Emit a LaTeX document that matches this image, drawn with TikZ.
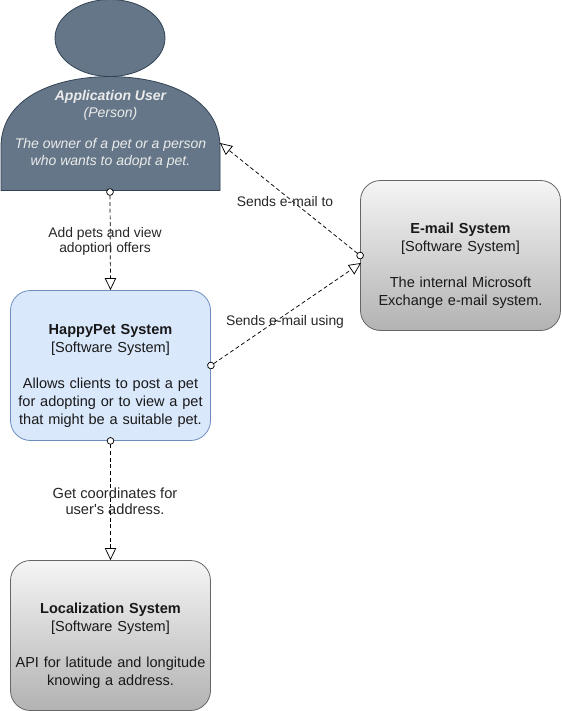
\documentclass[tikz,border=0pt]{standalone}
\usepackage{fontspec}
\setmainfont{Liberation Sans}
\usetikzlibrary{arrows.meta}

\definecolor{userfill}{HTML}{647687}
\definecolor{userline}{HTML}{314354}
\definecolor{bluefill}{HTML}{DAE8FC}
\definecolor{blueline}{HTML}{6C8EBF}

\tikzset{
    softbox/.style={rounded corners=15pt, minimum width=150pt, minimum height=112.5pt, line width=.6pt, draw=black!60, top color=black!4, bottom color=black!30},
    bluebox/.style={rounded corners=15pt, minimum width=150pt, minimum height=112.5pt, line width=.6pt, draw=blueline, fill=bluefill},
    personpart/.style={fill=userfill, draw=userline, line width=.6pt},
    boxtext/.style={align=center, font=\fontsize{10.9pt}{13.5pt}\selectfont, text=black!90, text width=150pt},
    usertext/.style={align=center, font=\fontsize{10.5pt}{12.4pt}\selectfont\itshape, text=white!92!black},
    linktext/.style={align=center, font=\fontsize{10.4pt}{11.8pt}\selectfont, text=black!85},
    link/.style={densely dashed, line width=.55pt, black, shorten <=-2.8pt, {Circle[open, fill=white, length=5.6pt]}-{Triangle[open, length=9pt, width=8.5pt]}},
}

\begin{document}
\begin{tikzpicture}[x=0.75pt, y=-0.75pt]
            \useasboundingbox (0,0) rectangle (561,711);
            % Person shape
            \draw[personpart] (110,38) ellipse [x radius=55, y radius=38.5];
            \draw[personpart] (1,190.5) -- (1,147) .. controls (1,100) and (50,77) .. (110,76.5) .. controls (170,77) and (220,100) .. (220,147) -- (220,190.5) -- cycle;
            \node[usertext] (user) at (110.5,129.2) {\textbf{Application User}\\(Person)\\[11.2pt]The owner of a pet or a person\\who wants to adopt a pet.};

            % Systems
            \node[softbox] (mail) at (460.5,255.5) {};
            \node[bluebox] (happy) at (110.5,365.5) {};
            \node[softbox] (local) at (110.5,635.5) {};
            \node[boxtext] (mailtext) at (460.5,266) {\textbf{E-mail System}\\{}[Software System]\\[13.5pt]The internal Microsoft\\Exchange e-mail system.};
            \node[boxtext] (happytext) at (110.5,376) {\textbf{HappyPet System}\\{}[Software System]\\[13.5pt]Allows clients to post a pet\\for adopting or to view a pet\\that might be a suitable pet.};
            \node[boxtext] (localtext) at (110.5,645.5) {\textbf{Localization System}\\{}[Software System]\\[13.5pt]API for latitude and longitude\\knowing a address.};

            % Free ends on the person shape
            \coordinate (userbottom) at (110,192);
            \coordinate (userside) at (220,143);
            \coordinate (mailside) at (361,263);

            \draw[link] (userbottom) -- (happy.north);
            \draw[link] (mail.west) -- (userside);
            \draw[link] (happy.east) -- (mailside);
            \draw[link] (happy.south) -- (local.north);

            \node[linktext] (addlabel) at (105,241.5) {Add pets and view\\adoption offers};
            \node[linktext] (tolabel) at (285,201.5) {Sends e-mail to};
            \node[linktext] (usinglabel) at (285,321.5) {Sends e-mail using};
            \node[linktext, font=\fontsize{11pt}{11.8pt}\selectfont] (coordlabel) at (115,501.5) {Get coordinates for\\user\textquotesingle s address.};
\end{tikzpicture}
\end{document}
